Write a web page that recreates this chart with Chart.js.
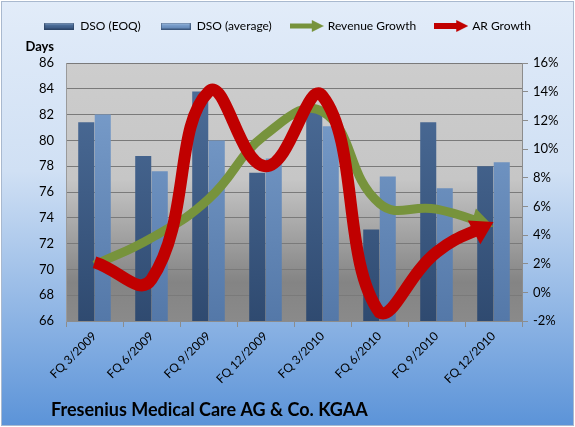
<!DOCTYPE html>
<html>
<head>
<meta charset="utf-8">
<script src="https://cdn.jsdelivr.net/npm/chart.js@4.4.1/dist/chart.umd.min.js"></script>
<style>
html, body { margin: 0; padding: 0; background: #fff; }
canvas { display: block; }
</style>
</head>
<body>
<canvas id="grafico" width="575" height="427"></canvas>
<script>
const quarters = ['FQ 3/2009', 'FQ 6/2009', 'FQ 9/2009', 'FQ 12/2009', 'FQ 3/2010', 'FQ 6/2010', 'FQ 9/2010', 'FQ 12/2010'];
const dsoEoq = [81.4, 78.8, 83.8, 77.5, 82.3, 73.1, 81.4, 78.0];
const dsoAvg = [82.0, 77.6, 80.0, 78.6, 81.1, 77.2, 76.3, 78.3];
const revenueGrowth = [1.9, 3.8, 6.5, 11.0, 12.6, 6.2, 5.8, 4.6];
const arGrowth = [2.1, 0.9, 14.0, 8.8, 13.7, -1.4, 2.8, 4.9];
const dayTicks = [66, 68, 70, 72, 74, 76, 78, 80, 82, 84, 86];
const pctTicks = [-2, 0, 2, 4, 6, 8, 10, 12, 14, 16];

const FONT = 'Lato, "Open Sans", sans-serif';

// little canvases used as legend symbols
function barIcon(top, bottom) {
    const c = document.createElement('canvas');
    c.width = 30; c.height = 7;
    const g = c.getContext('2d');
    const gr = g.createLinearGradient(0, 0, 0, 7);
    gr.addColorStop(0, '#c9dcf2');
    gr.addColorStop(0.3, top);
    gr.addColorStop(1, bottom);
    g.fillStyle = gr;
    g.fillRect(0, 0, 30, 7);
    g.strokeStyle = 'rgba(40,60,90,0.6)';
    g.strokeRect(0.5, 0.5, 29, 6);
    return c;
}

function arrowIcon(color, shaft) {
    const c = document.createElement('canvas');
    c.width = 34; c.height = 14;
    const g = c.getContext('2d');
    g.fillStyle = color;
    g.fillRect(0, 7 - shaft / 2, 24, shaft);
    g.beginPath();
    g.moveTo(22, 1);
    g.lineTo(34, 7);
    g.lineTo(22, 13);
    g.closePath();
    g.fill();
    return c;
}

const legendIcons = [
    barIcon('#4f709c', '#34507a'),
    barIcon('#7ea2cf', '#5b80b0'),
    arrowIcon('#77933c', 5),
    arrowIcon('#c00000', 6)
];

function barGradient(top, bottom) {
    return function(context) {
        const area = context.chart.chartArea;
        if (!area) return bottom;
        const gr = context.chart.ctx.createLinearGradient(0, area.top, 0, area.bottom);
        gr.addColorStop(0, top);
        gr.addColorStop(1, bottom);
        return gr;
    };
}

// spacer between the legend and the plot
const topSpacer = {
    id: 'topSpacer',
    beforeInit(chart) {
        Chart.layouts.addBox(chart, {
            position: 'top',
            weight: 500,
            fullSize: true,
            options: {},
            isHorizontal: () => true,
            update(maxWidth) { this.width = maxWidth; this.height = 21; },
            draw() {}
        });
    }
};

// background of the whole picture and of the plot
const backgrounds = {
    id: 'backgrounds',
    beforeDraw(chart) {
        const {ctx, width, height, chartArea: a} = chart;
        ctx.save();
        ctx.fillStyle = '#ffffff';
        ctx.fillRect(0, 0, width, height);
        let gr = ctx.createLinearGradient(0, 0, 0, height);
        gr.addColorStop(0, '#e2ecf9');
        gr.addColorStop(0.4, '#d0e0f4');
        gr.addColorStop(1, '#5b93d8');
        ctx.fillStyle = gr;
        ctx.fillRect(2, 2, width - 4, height - 4);
        ctx.strokeStyle = '#a9b9cf';
        ctx.strokeRect(1.5, 1.5, width - 3, height - 3);

        gr = ctx.createLinearGradient(0, a.top, 0, a.bottom);
        gr.addColorStop(0, '#cdcdcd');
        gr.addColorStop(0.45, '#c6c6c6');
        gr.addColorStop(0.85, '#848484');
        gr.addColorStop(1, '#8a8a8a');
        ctx.fillStyle = gr;
        ctx.fillRect(a.left, a.top, a.right - a.left, a.bottom - a.top);
        ctx.restore();
    },
    afterDraw(chart) {
        const ctx = chart.ctx;
        ctx.save();
        ctx.fillStyle = '#000';
        ctx.textBaseline = 'middle';
        ctx.textAlign = 'right';
        ctx.font = 'bold 13px ' + FONT;
        ctx.fillText('Days', 54, 47);
        ctx.textAlign = 'left';
        ctx.font = 'bold 18px ' + FONT;
        ctx.fillText('Fresenius Medical Care AG & Co. KGAA', 51, 410);
        ctx.restore();
    }
};

// arrow heads at the end of the growth lines
function headFor(chart, index) {
    const ds = chart.data.datasets[index];
    if (ds.type !== 'line') return null;
    const pts = chart.getDatasetMeta(index).data;
    if (pts.length < 2) return null;
    const last = pts[pts.length - 1];
    const prev = pts[pts.length - 2];
    let dx = last.x - (last.cp1x ?? prev.x);
    let dy = last.y - (last.cp1y ?? prev.y);
    let len = Math.hypot(dx, dy);
    if (len < 1) { dx = last.x - prev.x; dy = last.y - prev.y; len = Math.hypot(dx, dy); }
    return {x: last.x, y: last.y, ux: dx / len, uy: dy / len, l: ds.arrowLength, w: ds.arrowWidth, color: ds.borderColor};
}

const arrowHeads = {
    id: 'arrowHeads',
    beforeDatasetDraw(chart, args) {
        const h = headFor(chart, args.index);
        if (!h) return;
        const ctx = chart.ctx;
        const bx = h.x - h.ux * (h.l - 4), by = h.y - h.uy * (h.l - 4);
        const px = -h.uy, py = h.ux, R = 3000;
        ctx.save();
        ctx.beginPath();
        ctx.moveTo(bx + px * R, by + py * R);
        ctx.lineTo(bx + px * R - h.ux * R, by + py * R - h.uy * R);
        ctx.lineTo(bx - px * R - h.ux * R, by - py * R - h.uy * R);
        ctx.lineTo(bx - px * R, by - py * R);
        ctx.closePath();
        ctx.clip();
    },
    afterDatasetDraw(chart, args) {
        const h = headFor(chart, args.index);
        if (!h) return;
        const ctx = chart.ctx;
        ctx.restore();
        const bx = h.x - h.ux * h.l, by = h.y - h.uy * h.l;
        const px = -h.uy, py = h.ux;
        ctx.save();
        ctx.fillStyle = h.color;
        ctx.beginPath();
        ctx.moveTo(h.x, h.y);
        ctx.lineTo(bx + px * h.w / 2, by + py * h.w / 2);
        ctx.lineTo(bx - px * h.w / 2, by - py * h.w / 2);
        ctx.closePath();
        ctx.fill();
        ctx.restore();
    }
};

const ctx = document.getElementById('grafico').getContext('2d');
const chart = new Chart(ctx, {
    type: 'bar',
    data: {
        labels: quarters,
        datasets: [
            {
                label: 'DSO (EOQ)',
                data: dsoEoq,
                yAxisID: 'y',
                backgroundColor: barGradient('#4f709c', '#2f4a70'),
                categoryPercentage: 0.58,
                barPercentage: 0.97,
                order: 3
            },
            {
                label: 'DSO (average)',
                data: dsoAvg,
                yAxisID: 'y',
                backgroundColor: barGradient('#7ea2cf', '#5478a8'),
                categoryPercentage: 0.58,
                barPercentage: 0.97,
                order: 3
            },
            {
                type: 'line',
                label: 'Revenue Growth',
                data: revenueGrowth,
                yAxisID: 'y1',
                borderColor: '#77933c',
                borderWidth: 9,
                tension: 0.45,
                pointRadius: 0,
                arrowLength: 22,
                arrowWidth: 24,
                order: 2
            },
            {
                type: 'line',
                label: 'AR Growth',
                data: arGrowth,
                yAxisID: 'y1',
                borderColor: '#c00000',
                borderWidth: 12,
                tension: 0.45,
                pointRadius: 0,
                arrowLength: 22,
                arrowWidth: 27,
                order: 1
            }
        ]
    },
    options: {
        responsive: false,
        animation: false,
        layout: { padding: 0 },
        plugins: {
            title: { display: false },
            tooltip: { enabled: false },
            legend: {
                position: 'top',
                labels: {
                    usePointStyle: true,
                    pointStyleWidth: 30,
                    padding: 20,
                    color: '#000',
                    font: { family: FONT, size: 12 },
                    generateLabels: (c) => c.data.datasets.map((ds, i) => ({
                        text: ds.label,
                        pointStyle: legendIcons[i],
                        datasetIndex: i,
                        fillStyle: 'transparent',
                        strokeStyle: 'transparent',
                        lineWidth: 0,
                        hidden: false
                    }))
                }
            }
        },
        scales: {
            x: {
                afterFit: (s) => { s.height = 106; },
                grid: { drawOnChartArea: false, drawTicks: true, tickLength: 6, color: '#8c8c8c', offset: true },
                border: { display: true, color: '#8c8c8c' },
                ticks: { maxRotation: 45, minRotation: 45, color: '#000', padding: 2, font: { family: FONT, size: 12 } }
            },
            y: {
                position: 'left',
                min: 66,
                max: 86,
                afterFit: (s) => { s.width = 66; },
                afterBuildTicks: (s) => { s.ticks = dayTicks.map((v) => ({ value: v })); },
                grid: { color: '#7a7a7a', drawTicks: false },
                border: { display: true, color: '#9a9a9a' },
                ticks: { padding: 12, color: '#000', font: { family: FONT, size: 13 } }
            },
            y1: {
                position: 'right',
                min: -2,
                max: 16,
                afterFit: (s) => { s.width = 53; },
                afterBuildTicks: (s) => { s.ticks = pctTicks.map((v) => ({ value: v })); },
                grid: { drawOnChartArea: false, drawTicks: true, tickLength: 6, color: '#8c8c8c' },
                border: { display: true, color: '#8c8c8c' },
                ticks: { padding: 5, color: '#000', font: { family: FONT, size: 13 }, callback: (v) => v + '%' }
            }
        }
    },
    plugins: [topSpacer, backgrounds, arrowHeads]
});
</script>
</body>
</html>
